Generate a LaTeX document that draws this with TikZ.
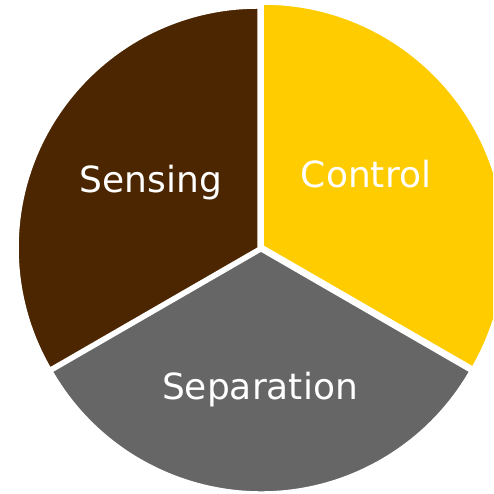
\documentclass[tikz,border=0pt]{standalone}
\usepackage{fontspec}
\setmainfont{DejaVu Sans}
\definecolor{sensbrown}{HTML}{4B2600}
\definecolor{ctrlyellow}{HTML}{FFCC00}
\definecolor{sepgray}{HTML}{666666}
\begin{document}
\begin{tikzpicture}[x=1pt,y=1pt]
\tikzset{slice/.style={draw=white,line width=1.5pt,line join=round},
  label/.style={text=white,anchor=base,inner sep=0pt,font=\fontsize{36}{43}\selectfont}}
\useasboundingbox (0,0) rectangle (493,494);
\clip (0,0) rectangle (493,494);
% the three slices
\filldraw[slice,fill=ctrlyellow] (263,248) -- ++(90:242) arc (90:-30:242) -- cycle;
\filldraw[slice,fill=sensbrown] (258,246) -- ++(90:240) arc (90:210:240) -- cycle;
\filldraw[slice,fill=sepgray] (261,243) -- ++(210:241) arc (210:330:241) -- cycle;
% labels
\node[label] (sensing) at (151,301) {Sensing};
\node[label] (control) at (366,306) {Control};
\node[label] (separation) at (260,94) {Separation};
\end{tikzpicture}
\end{document}
